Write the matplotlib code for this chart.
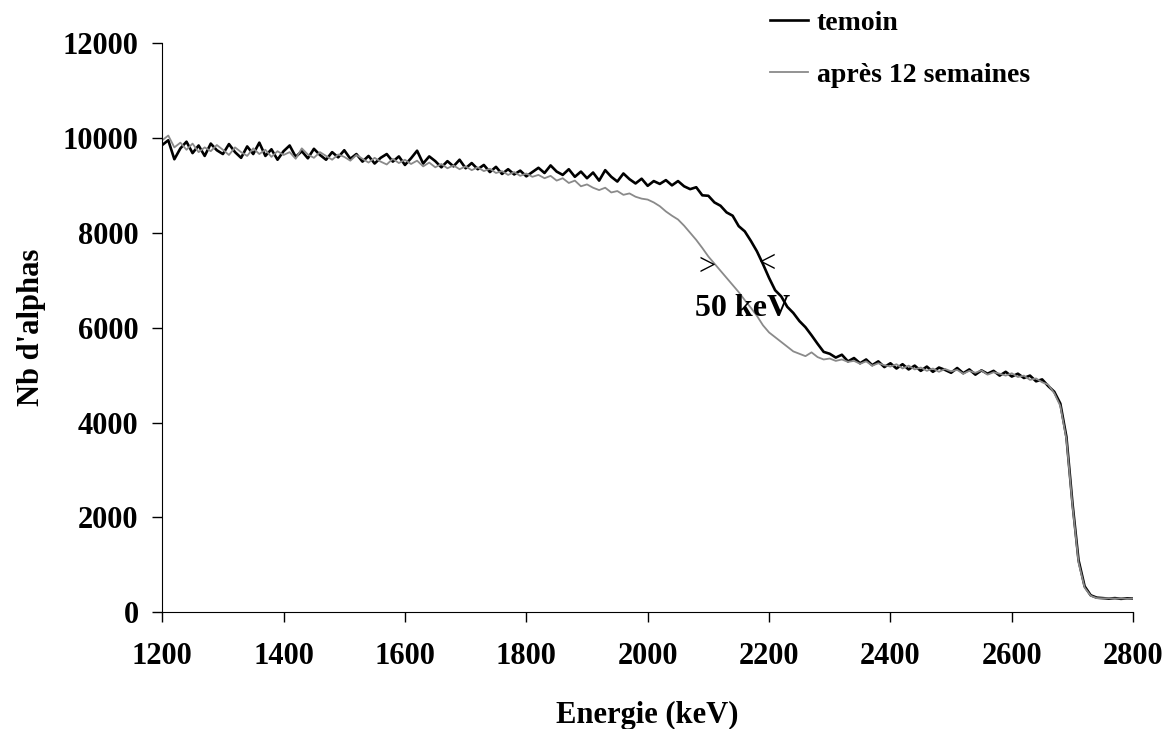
import matplotlib.pyplot as plt
import numpy as np

# energy channels (keV), one every 10 keV
energie = np.arange(1200, 2810, 10)

temoin = [
    9850, 9950, 9550, 9780, 9920, 9680, 9840, 9620, 9880, 9740,
    9660, 9870, 9700, 9580, 9820, 9660, 9900, 9620, 9760, 9540,
    9720, 9840, 9600, 9720, 9570, 9770, 9640, 9540, 9700, 9590,
    9740, 9560, 9660, 9500, 9620, 9460, 9580, 9660, 9500, 9610,
    9430, 9570, 9730, 9460, 9610, 9510, 9380, 9510, 9400, 9540,
    9360, 9470, 9340, 9430, 9280, 9390, 9240, 9340, 9230, 9310,
    9190, 9280, 9370, 9260, 9420, 9290, 9220, 9340, 9180, 9290,
    9150, 9270, 9100, 9320, 9180, 9080, 9250, 9130, 9040, 9140,
    8990, 9090, 9030, 9110, 9000, 9090, 8980, 8920, 8960, 8790,
    8780, 8640, 8570, 8430, 8360, 8140, 8030, 7830, 7610, 7340,
    7050, 6790, 6660, 6440, 6310, 6140, 6010, 5840, 5660, 5490,
    5450, 5370, 5430, 5290, 5360, 5250, 5330, 5210, 5290, 5170,
    5250, 5140, 5230, 5120, 5200, 5090, 5180, 5070, 5160, 5110,
    5050, 5150, 5040, 5120, 5010, 5100, 5030, 5090, 4990, 5070,
    4970, 5030, 4940, 4990, 4870, 4910, 4770, 4650, 4400, 3700,
    2300, 1100, 550, 360, 310, 300, 290, 300, 285, 295,
    290,
]

apres = [
    9950, 10050, 9800, 9900, 9750, 9880, 9700, 9800, 9720, 9850,
    9750, 9640, 9800, 9700, 9620, 9780, 9660, 9750, 9600, 9720,
    9640, 9700, 9560, 9780, 9650, 9580, 9700, 9620, 9540, 9650,
    9600, 9520, 9640, 9560, 9480, 9580, 9500, 9440, 9560, 9470,
    9540, 9450, 9520, 9400, 9480, 9380, 9450, 9360, 9420, 9340,
    9400, 9320, 9380, 9300, 9350, 9260, 9300, 9220, 9280, 9200,
    9250, 9180, 9220, 9150, 9200, 9100, 9150, 9050, 9100, 8980,
    9020, 8950, 8900, 8950, 8850, 8880, 8800, 8830, 8760, 8720,
    8700, 8640, 8560, 8450, 8360, 8280, 8150, 8000, 7850, 7680,
    7500, 7350, 7200, 7050, 6900, 6750, 6580, 6420, 6250, 6050,
    5900, 5800, 5700, 5600, 5500, 5450, 5400, 5480, 5380, 5330,
    5350, 5300, 5330, 5280, 5300, 5240, 5290, 5200, 5250, 5210,
    5180, 5230, 5140, 5200, 5120, 5160, 5090, 5140, 5070, 5130,
    5080, 5110, 5030, 5090, 5050, 5100, 5010, 5060, 5030, 4990,
    5040, 4960, 4990, 4900, 4930, 4850, 4800, 4620, 4350, 3650,
    2250, 1050, 520, 350, 300, 295, 300, 290, 295, 285,
    290,
]

plt.rcParams["font.family"] = ["Liberation Serif", "DejaVu Serif"]
plt.rcParams["font.weight"] = "bold"

fig = plt.figure(figsize=(11.67, 7.29), dpi=100)
ax = fig.add_axes([0.139, 0.16, 0.832, 0.781])

ax.plot(energie, temoin, color="black", lw=1.9, label="temoin")
ax.plot(energie, apres, color="#8a8a8a", lw=1.3, label="après 12 semaines")

ax.set_xlim(1200, 2800)
ax.set_ylim(0, 12000)
ax.set_xticks(np.arange(1200, 2801, 200))
ax.set_yticks(np.arange(0, 12001, 2000))
ax.tick_params(axis="both", direction="out", length=7, width=1,
               labelsize=22, colors="black")
ax.tick_params(axis="x", pad=14)
ax.tick_params(axis="y", pad=10)
for lab in ax.get_xticklabels() + ax.get_yticklabels():
    lab.set_fontweight("bold")

ax.spines["top"].set_visible(False)
ax.spines["right"].set_visible(False)

ax.set_xlabel("Energie (keV)", fontsize=22, fontweight="bold", labelpad=22)
ax.set_ylabel("Nb d'alphas", fontsize=22, fontweight="bold", labelpad=12)

# 50 keV shift annotation
ax.text(2098, 7280, ">", fontsize=22, fontweight="normal", ha="center", va="center")
ax.text(2197, 7340, "<", fontsize=22, fontweight="normal", ha="center", va="center")
ax.text(2157, 6400, "50 keV", fontsize=23, fontweight="bold", ha="center", va="center")

fig.legend(loc="upper left", bbox_to_anchor=(0.638, 1.02), frameon=False,
           handlelength=1.4, handletextpad=0.3, labelspacing=0.95,
           prop={"weight": "bold", "size": 20})

fig.savefig("out.png", dpi=100)
